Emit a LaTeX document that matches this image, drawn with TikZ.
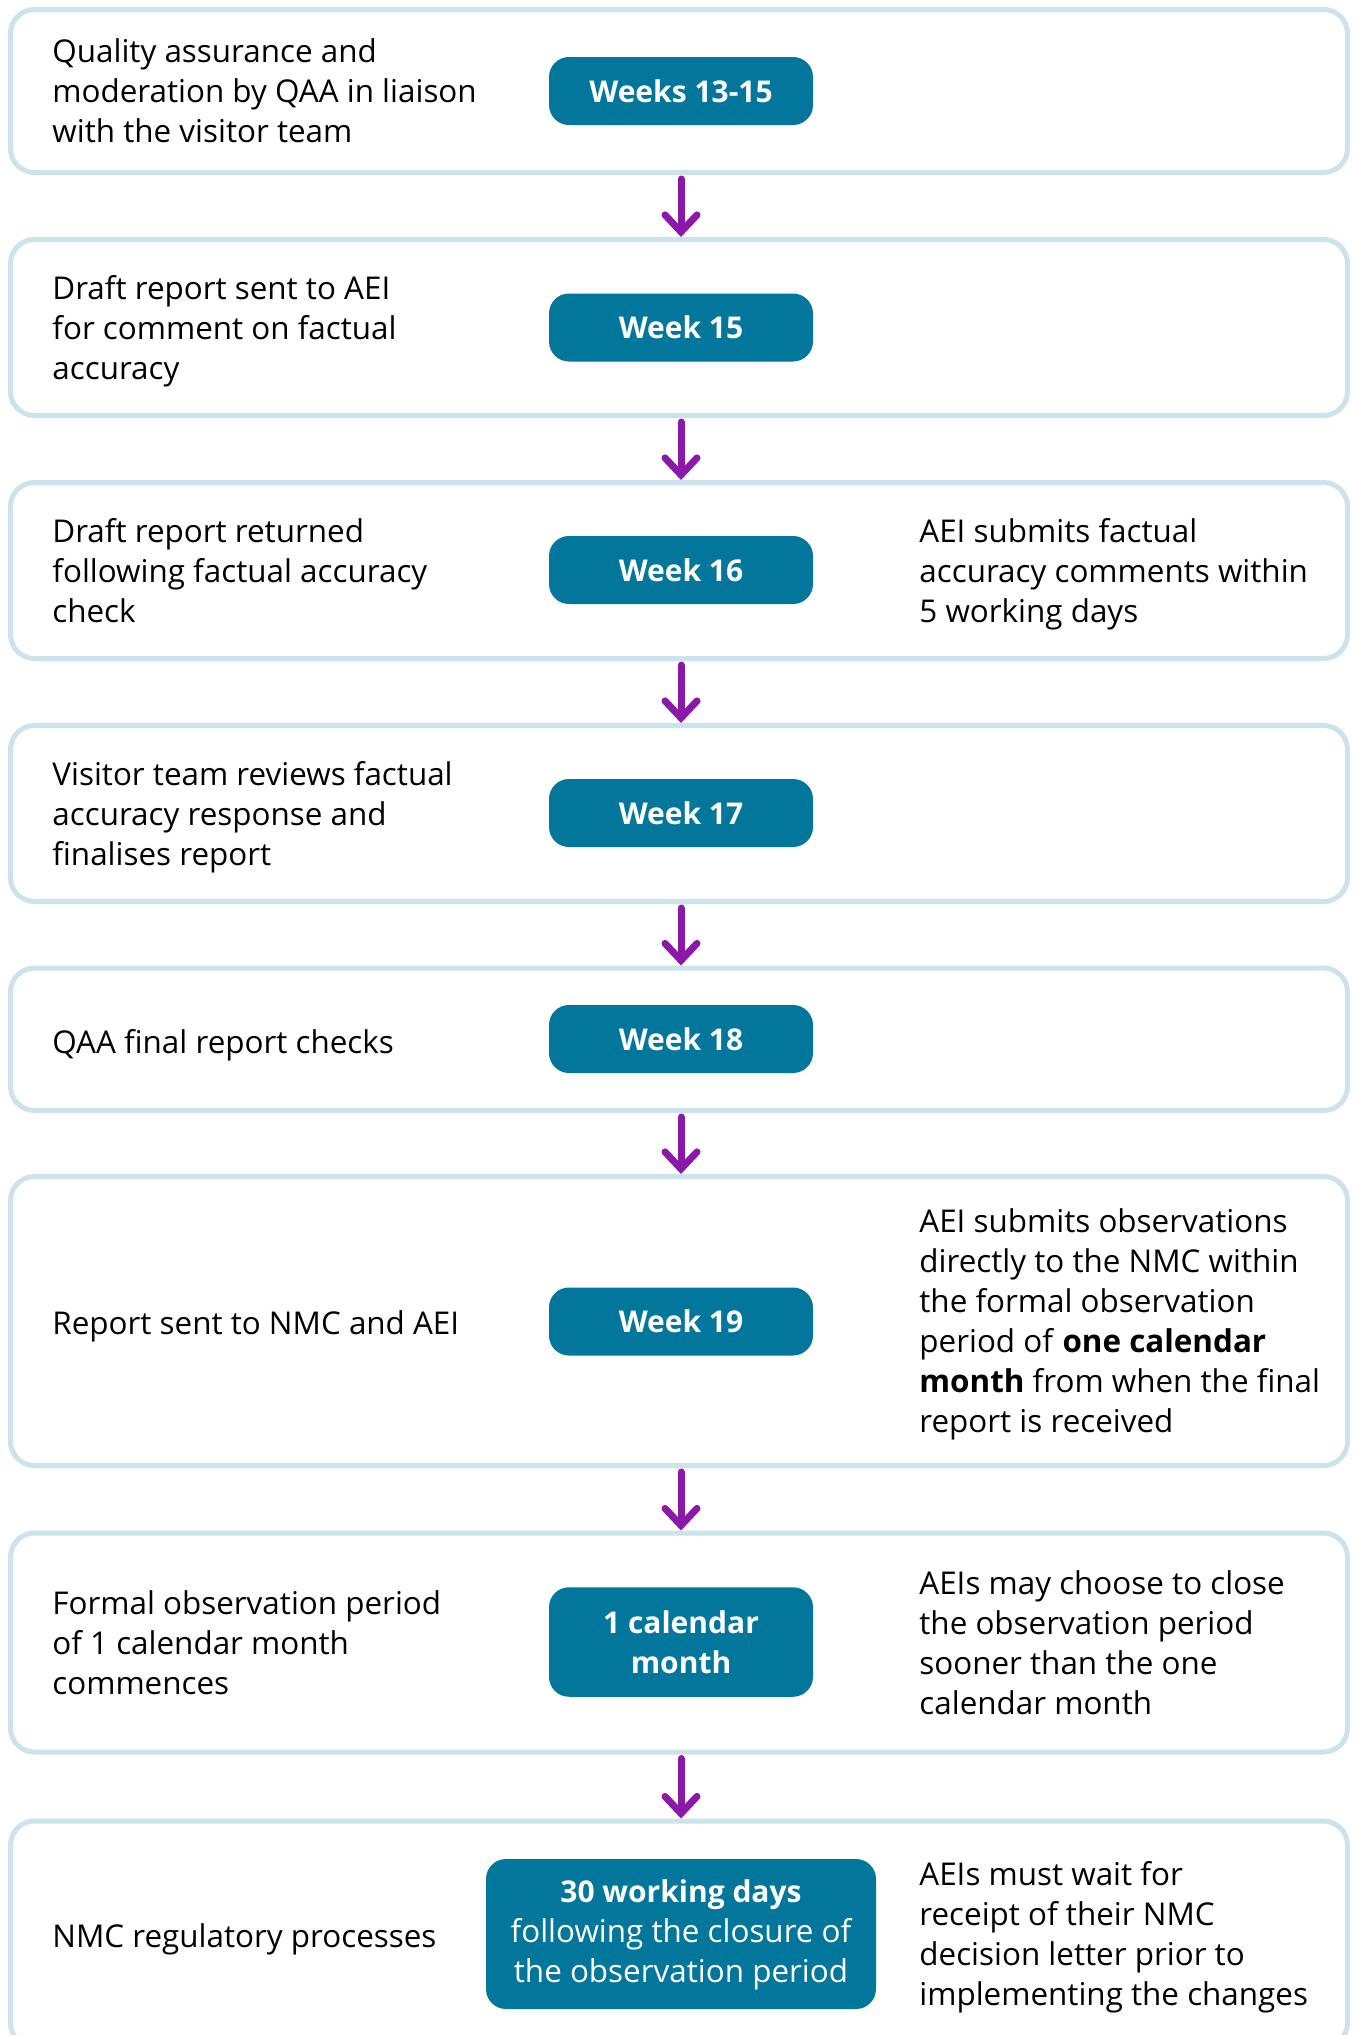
\documentclass[tikz,border=0pt]{standalone}
\usepackage{fontspec}
\setmainfont{Open Sans}
\usetikzlibrary{arrows.meta}

\definecolor{frameblue}{HTML}{CDE3EB}
\definecolor{pillteal}{HTML}{03769B}
\definecolor{arrowpurple}{HTML}{8A18A8}

\newcommand{\bodysize}{\fontsize{15.7pt}{20pt}\selectfont}

\begin{document}
\begin{tikzpicture}[x=0.5pt,y=-0.5pt,
  stage/.style={draw=frameblue, line width=2.5pt, rounded corners=12pt,
    fill=white, inner sep=0pt, minimum width=668.5pt},
  pill/.style={fill=pillteal, rounded corners=10pt, inner sep=0pt,
    minimum width=132pt, minimum height=34pt, text=white, align=center,
    font=\fontsize{15pt}{20pt}\selectfont\bfseries},
  notetext/.style={anchor=west, align=left, inner sep=0pt, font=\bodysize,
    yshift=-2.9pt,
    execute at begin node=\strut, execute at end node=\strut},
  lefttext/.style={notetext},
  righttext/.style={notetext},
  flow/.style={draw=arrowpurple, line width=3.5pt, line cap=round,
    shorten <=2pt,
    -{Straight Barb[length=8.5pt, width=16pt, line cap=round]}}
]
\useasboundingbox (0,0) rectangle (1356,2035);
\clip (0,0) rectangle (1356,2035);
\fill[white] (0,0) rectangle (1356,2035);

% stage frames
\node[stage, minimum height=81.5pt]  (s1) at (679,91)     {};
\node[stage, minimum height=88pt]    (s2) at (679,327.5)  {};
\node[stage, minimum height=88pt]    (s3) at (679,570.5)  {};
\node[stage, minimum height=88pt]    (s4) at (679,813.5)  {};
\node[stage, minimum height=71.25pt] (s5) at (679,1039.25){};
\node[stage, minimum height=144.5pt] (s6) at (679,1321)   {};
\node[stage, minimum height=109.5pt] (s7) at (679,1642.5) {};
\node[stage, minimum height=113pt]   (s8) at (679,1934)   {};

% timing pills
\node[pill] (p1) at (681,91)     {Weeks 13-15};
\node[pill] (p2) at (681,327.5)  {Week 15};
\node[pill] (p3) at (681,570)    {Week 16};
\node[pill] (p4) at (681,813)    {Week 17};
\node[pill] (p5) at (681,1039)   {Week 18};
\node[pill] (p6) at (681,1321.5) {Week 19};
\node[pill, minimum height=54.75pt] (p7) at (681,1642) {1 calendar\\month};
\node[pill, minimum width=195pt, minimum height=75pt] (p8) at (681,1934)
  {\strut 30 working days\\\bodysize\mdseries following the closure of\\\bodysize\mdseries the observation period\strut};

% stage descriptions
\node[lefttext] (l1) at (52,91)     {Quality assurance and\\moderation by QAA in liaison\\with the visitor team};
\node[lefttext] (l2) at (52,327.5)  {Draft report sent to AEI\\for comment on factual\\accuracy};
\node[lefttext] (l3) at (52,570.5)  {Draft report returned\\following factual accuracy\\check};
\node[lefttext] (l4) at (52,813.5)  {Visitor team reviews factual\\accuracy response and\\finalises report};
\node[lefttext] (l5) at (52,1039.25){QAA final report checks};
\node[lefttext] (l6) at (52,1321)   {Report sent to NMC and AEI};
\node[lefttext] (l7) at (52,1642.5) {Formal observation period\\of 1 calendar month\\commences};
\node[lefttext] (l8) at (52,1934)   {NMC regulatory processes};

% side notes
\node[righttext] (r3) at (919,570.5) {AEI submits factual\\accuracy comments within\\5 working days};
\node[righttext] (r6) at (919,1321) {AEI submits observations\\directly to the NMC within\\the formal observation\\period of \textbf{one calendar}\\\textbf{month} from when the final\\report is received};
\node[righttext] (r7) at (919,1642.5) {AEIs may choose to close\\the observation period\\sooner than the one\\calendar month};
\node[righttext] (r8) at (919,1934) {AEIs must wait for\\receipt of their NMC\\decision letter prior to\\implementing the changes};

% flow arrows between stages
\foreach \a/\b in {1/2,2/3,3/4,4/5,5/6,6/7,7/8}
  \draw[flow] (s\a.south -| p\a.center) -- (s\b.north -| p\b.center);
\end{tikzpicture}
\end{document}
